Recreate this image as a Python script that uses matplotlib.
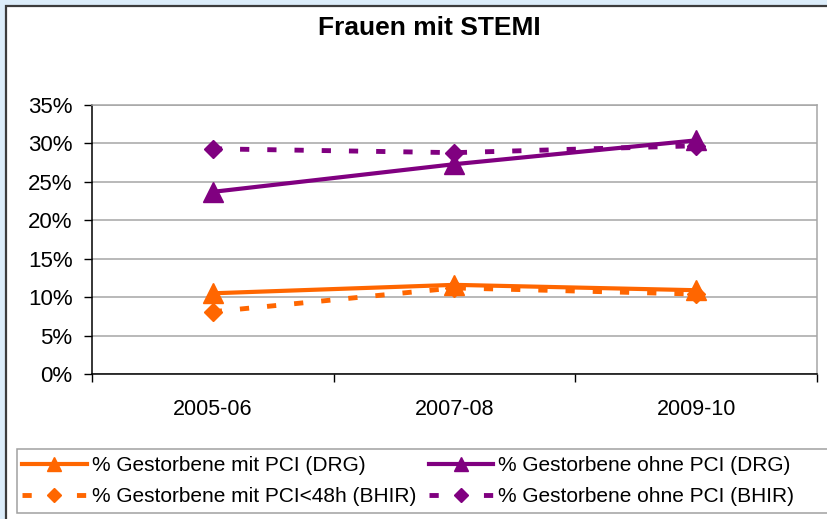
import numpy as np
import matplotlib.pyplot as plt
from matplotlib.patches import Rectangle

# Data
periods = ['2005-06', '2007-08', '2009-10']
mit_pci_drg = [10.5, 11.6, 10.9]
ohne_pci_drg = [23.7, 27.3, 30.4]
mit_pci48_bhir = [8.1, 11.2, 10.4]
ohne_pci_bhir = [29.3, 28.8, 29.7]

orange = '#ff6600'
purple = '#800080'

plt.rcParams['font.family'] = ['Liberation Sans', 'DejaVu Sans']

fig = plt.figure(figsize=(8.28, 5.19), dpi=100, facecolor='#dcedfa')

# chart frame (white area, cut off on the right and bottom)
fig.patches.append(Rectangle((6 / 828, -0.2), 1.2, 1.2 - 6 / 519,
                             transform=fig.transFigure, facecolor='white',
                             edgecolor='#3c3c3c', lw=1.6, zorder=-2))
# legend frame, running past the right edge
fig.patches.append(Rectangle((17 / 828, 1 - 513 / 519), 1.0, (513 - 449) / 519,
                             transform=fig.transFigure, facecolor='white',
                             edgecolor='#a0a0a0', lw=1.1, zorder=-1))

ax = fig.add_axes([92 / 828, 1 - 374 / 519, (817 - 92) / 828, (374 - 105) / 519])
ax.set_facecolor('white')

x = np.arange(len(periods))
dash = (0, (1.9, 3.7))

l1, = ax.plot(x, mit_pci_drg, color=orange, lw=3.0, marker='^', ms=14,
              label='% Gestorbene mit PCI (DRG)', zorder=3)
l2, = ax.plot(x, ohne_pci_drg, color=purple, lw=3.0, marker='^', ms=14,
              label='% Gestorbene ohne PCI (DRG)', zorder=3)
l3, = ax.plot(x, mit_pci48_bhir, color=orange, lw=3.5, ls=dash, marker='D', ms=9.5,
              dash_capstyle='butt', label='% Gestorbene mit PCI<48h (BHIR)', zorder=4)
l4, = ax.plot(x, ohne_pci_bhir, color=purple, lw=3.5, ls=dash, marker='D', ms=9.5,
              dash_capstyle='butt', label='% Gestorbene ohne PCI (BHIR)', zorder=4)

ax.set_xlim(-0.5, 2.5)
ax.set_ylim(0, 35)
ax.set_yticks(np.arange(0, 36, 5))
ax.set_yticklabels([f'{v}%' for v in range(0, 36, 5)], fontsize=16)
ax.yaxis.grid(True, color='#a6a6a6', lw=1.1)
ax.set_axisbelow(True)

ax.set_xticks([-0.5, 0.5, 1.5, 2.5])
ax.set_xticklabels([])
ax.set_xticks(x, minor=True)
ax.set_xticklabels(periods, minor=True, fontsize=15.5)
ax.tick_params(axis='x', which='minor', length=0, pad=18)
ax.tick_params(axis='x', which='major', length=6, width=1, direction='out')
ax.tick_params(axis='y', length=6, width=1, direction='out', pad=8)

for side in ['top', 'right']:
    ax.spines[side].set_color('#a6a6a6')
    ax.spines[side].set_linewidth(1.1)
for side in ['left', 'bottom']:
    ax.spines[side].set_color('black')
    ax.spines[side].set_linewidth(1.1)

fig.text(429 / 828, 1 - 28 / 519, 'Frauen mit STEMI', ha='center', va='center',
         fontsize=19, fontweight='bold')

leg = fig.legend(handles=[l1, l3, l2, l4], ncol=2, loc='upper left',
                 bbox_to_anchor=(22 / 828, 1 - 456 / 519), frameon=False,
                 fontsize=15, handlelength=3.1, handletextpad=0.25, markerscale=0.75,
                 columnspacing=0.6, labelspacing=0.6, borderpad=0, borderaxespad=0)

fig.savefig('out.png', dpi=100, facecolor=fig.get_facecolor())
